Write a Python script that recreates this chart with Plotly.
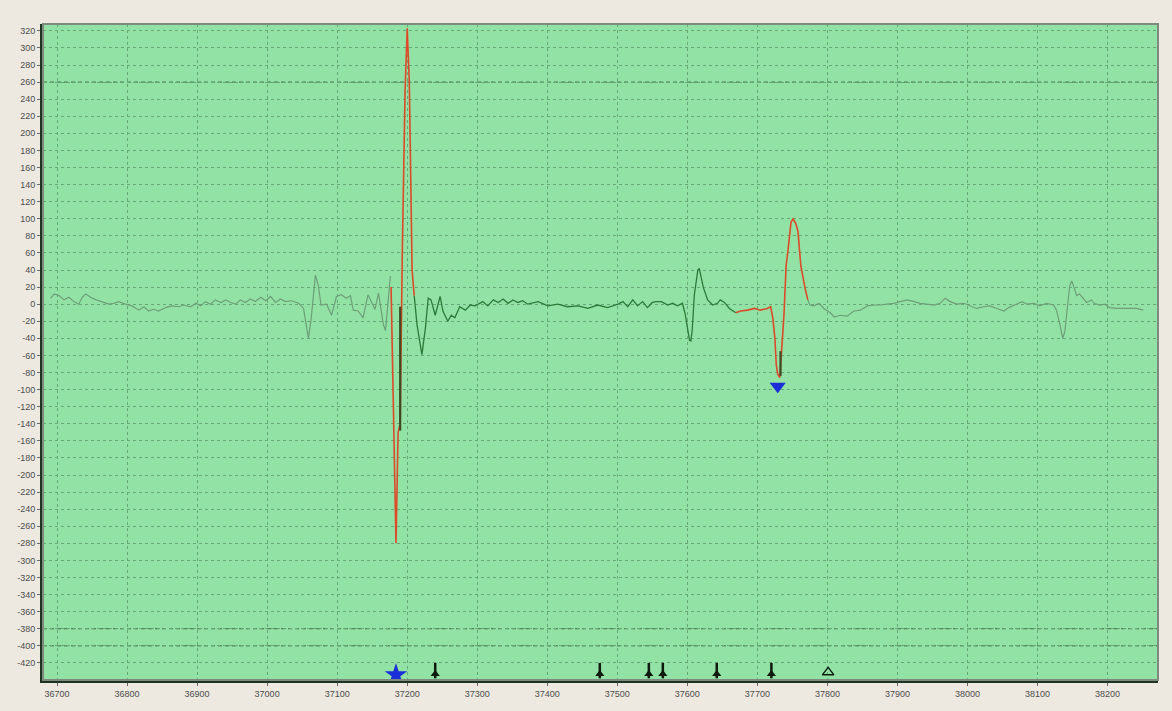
import plotly.graph_objects as go

# ---- trace samples (sample index, amplitude) ----
# quiet lead-in and first disturbance
pre_x = [36691, 36696, 36703, 36710, 36717, 36724, 36731, 36736, 36741, 36748,
         36756, 36764, 36774, 36781, 36788, 36798, 36807, 36817, 36824, 36831,
         36838, 36845, 36855, 36864, 36874, 36881, 36891, 36898, 36905, 36912,
         36919, 36926, 36934, 36941, 36948, 36955, 36962, 36969, 36976, 36983,
         36991, 36998, 37005, 37012, 37019, 37026, 37035, 37045, 37052, 37059,
         37063, 37069, 37073, 37077, 37085, 37092, 37099, 37106, 37113, 37119,
         37123, 37130, 37137, 37144, 37149, 37154, 37159, 37166, 37169, 37176]
pre_y = [7, 12, 10, 5, 8, 3, 0, 8, 12, 8,
         5, 3, 0, 1, 3, 0, -2, -7, -3, -8,
         -6, -8, -4, -2, -3, -1, -3, 1, -2, 3,
         0, 5, 2, 5, 2, 0, 5, 2, 6, 3,
         8, 4, 9, 2, 6, 3, 4, 1, -5, -40,
         -16, 34, 22, -1, 0, -13, 9, 11, 7, 10,
         -7, -8, -16, 11, 2, -6, 13, -24, -31, 33]

# first picked event (large swing)
ev1_x = [37177, 37180, 37184, 37187, 37190, 37193, 37197, 37200, 37203, 37205, 37207, 37210]
ev1_y = [20, -120, -280, -150, -140, 60, 250, 323, 260, 150, 40, 10]

# body between the two events
mid_x = [37210, 37214, 37221, 37226, 37230, 37234, 37240, 37247, 37251, 37258,
         37263, 37268, 37275, 37283, 37290, 37297, 37308, 37315, 37323, 37330,
         37337, 37344, 37351, 37358, 37365, 37372, 37387, 37401, 37415, 37429,
         37444, 37458, 37472, 37486, 37501, 37508, 37515, 37522, 37529, 37536,
         37543, 37550, 37556, 37563, 37572, 37579, 37586, 37593, 37597, 37603,
         37605, 37607, 37610, 37615, 37617, 37619, 37623, 37629, 37636, 37643,
         37647, 37653, 37660, 37669]
mid_y = [10, -24, -59, -28, 7, 5, -13, 9, -8, -20,
         -13, -16, -3, -7, -1, -2, 3, -2, 5, 2,
         6, 1, 5, 2, 4, 0, 3, -2, 0, -3,
         -2, -5, -1, -4, 0, 3, -3, 5, -2, 3,
         -4, 2, 3, 3, -1, 1, -2, 1, -12, -42,
         -43, -30, 11, 40, 42, 34, 19, 5, -1, 1,
         5, 2, -5, -10]

# second picked event
ev2_x = [37669, 37676, 37686, 37696, 37704, 37714, 37719, 37722, 37725, 37727,
         37729, 37732, 37738, 37741, 37744, 37748, 37751, 37755, 37758, 37762,
         37768, 37772]
ev2_y = [-10, -8, -7, -5, -7, -5, -3, -16, -40, -71,
         -82, -86, -12, 45, 65, 96, 100, 94, 85, 45,
         19, 5]

# coda
post_x = [37772, 37775, 37781, 37788, 37795, 37804, 37810, 37818, 37828, 37838,
          37847, 37857, 37867, 37875, 37885, 37895, 37904, 37914, 37924, 37932,
          37942, 37952, 37961, 37968, 37975, 37985, 37995, 38003, 38013, 38023,
          38032, 38042, 38052, 38059, 38068, 38078, 38085, 38095, 38103, 38113,
          38123, 38127, 38132, 38136, 38139, 38143, 38146, 38149, 38152, 38156,
          38160, 38166, 38170, 38177, 38181, 38189, 38196, 38203, 38213, 38227,
          38241, 38251]
post_y = [5, -1, -2, 1, -5, -10, -15, -13, -14, -8,
          -7, -2, -1, -1, 0, 1, 3, 5, 3, 1,
          0, -1, 1, 7, 3, 0, 1, -2, -5, -3,
          -2, -5, -8, -4, -1, 3, 0, 1, -2, 1,
          -1, -7, -24, -40, -32, -1, 22, 27, 19, 10,
          12, 6, 2, 5, 1, -1, 0, -4, -5, -5,
          -5, -7]

# short underlying strokes inside the picked events
under_x1 = [37190, 37190]
under_y1 = [-3, -148]
under_x2 = [37733, 37733]
under_y2 = [-55, -84]

# event markers
star_x = [37184]
star_y = [-434]
pick_x = [37729]
pick_y = [-96]
arrival_x = [37240, 37475, 37545, 37565, 37642, 37720]
arrival_y = [-433, -433, -433, -433, -433, -433]
open_arrival_x = [37801]
open_arrival_y = [-433]

x_ticks = [36700, 36800, 36900, 37000, 37100, 37200, 37300, 37400, 37500,
           37600, 37700, 37800, 37900, 38000, 38100, 38200]
y_ticks = list(range(-420, 321, 20))

LIGHT = "#6e9f78"
DARK = "#2c7a3a"
RED = "#dc4a2a"
INK = "#0d1a0d"

fig = go.Figure()


def line(x, y, color, width=1.2):
    fig.add_trace(go.Scatter(x=x, y=y, mode="lines",
                             line=dict(color=color, width=width),
                             hoverinfo="skip", showlegend=False))


line(pre_x, pre_y, LIGHT)
line(mid_x, mid_y, DARK, 1.3)
line(post_x, post_y, LIGHT)
line(ev1_x, ev1_y, RED, 1.6)
line(ev2_x, ev2_y, RED, 1.6)
line(under_x1, under_y1, "#3d4a22", 2.2)
line(under_x2, under_y2, "#3d4a22", 2.2)

# arrival flags: narrow spires standing on the time axis
fig.add_trace(go.Scatter(x=arrival_x, y=arrival_y, mode="markers",
                         marker=dict(symbol="triangle-up", size=8, color=INK,
                                     line=dict(width=0)),
                         showlegend=False, hoverinfo="skip"))
fig.add_trace(go.Scatter(x=arrival_x, y=[v + 4 for v in arrival_y], mode="markers",
                         marker=dict(symbol="line-ns", size=11, color=INK,
                                     line=dict(width=2.5, color=INK)),
                         showlegend=False, hoverinfo="skip"))
fig.add_trace(go.Scatter(x=open_arrival_x, y=[v + 2 for v in open_arrival_y],
                         mode="markers",
                         marker=dict(symbol="triangle-up-open", size=10, color=INK,
                                     line=dict(width=1.4)),
                         showlegend=False, hoverinfo="skip"))
fig.add_trace(go.Scatter(x=star_x, y=star_y, mode="markers",
                         marker=dict(symbol="star", size=17, color="#1a2fd8",
                                     line=dict(width=0)),
                         showlegend=False, hoverinfo="skip"))
fig.add_trace(go.Scatter(x=pick_x, y=pick_y, mode="markers",
                         marker=dict(symbol="triangle-down", size=14, color="#1a2fd8",
                                     line=dict(width=0)),
                         showlegend=False, hoverinfo="skip"))

# darker reference levels
for lvl in (260, -380, -400):
    fig.add_shape(type="line", xref="paper", x0=0, x1=1, yref="y", y0=lvl, y1=lvl,
                  line=dict(color="#3e6a48", width=1, dash="4px,3px"), layer="below")

# thin frame on top and right
fig.add_shape(type="rect", xref="paper", yref="paper", x0=0, x1=1, y0=0, y1=1,
              line=dict(color="#7d8a7d", width=2), layer="above")

fig.update_layout(
    width=1172, height=711,
    margin=dict(l=43, r=14, t=24, b=27),
    paper_bgcolor="#ede9e0",
    plot_bgcolor="#92e2a5",
    font=dict(family="Liberation Sans", size=9, color="#4d4d4d"),
)
fig.update_xaxes(
    range=[36680, 38272], tickvals=x_ticks, ticktext=[str(v) for v in x_ticks],
    showgrid=True, gridcolor="#66a877", griddash="3px,3px", gridwidth=1,
    zeroline=False, showline=True, linecolor="#1f3323", linewidth=3,
    ticks="outside", ticklen=3, tickcolor="#6a6a6a",
)
fig.update_yaxes(
    range=[-440, 328], tickvals=y_ticks, ticktext=[str(v) for v in y_ticks],
    showgrid=True, gridcolor="#66a877", griddash="3px,3px", gridwidth=1,
    zeroline=False, showline=True, linecolor="#1f3323", linewidth=3,
    ticks="outside", ticklen=3, tickcolor="#6a6a6a",
)

fig.write_html("out.html")
